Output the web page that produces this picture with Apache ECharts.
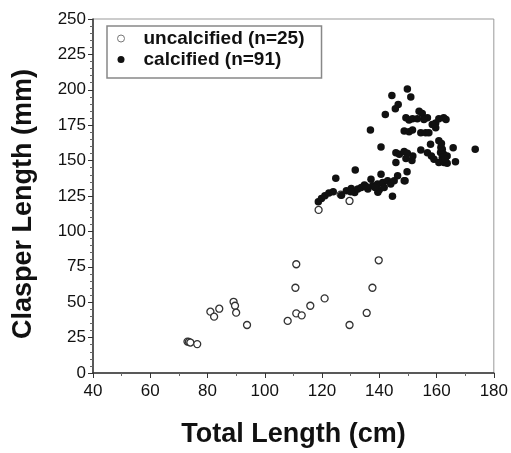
<!DOCTYPE html>
<html>
<head>
<meta charset="utf-8">
<script src="https://cdn.jsdelivr.net/npm/echarts@6/dist/echarts.min.js"></script>
<style>html,body{margin:0;padding:0;background:#fff}#c{width:511px;height:453px}</style>
</head>
<body>
<div id="c"></div>
<script>
var seriesNames = ['uncalcified (n=25)', 'calcified (n=91)'];
var xTicks = [40, 60, 80, 100, 120, 140, 160, 180];
var yTicks = [0, 25, 50, 75, 100, 125, 150, 175, 200, 225, 250];

var uncalcified = [
  [73.0,22.2],[73.5,22.0],[74.0,21.5],[76.4,20.4],[81.0,43.3],[82.3,39.8],[84.1,45.4],
  [89.1,50.3],[89.6,47.5],[90.0,42.6],[93.8,33.9],[108.0,36.8],[110.7,60.2],[111.0,76.8],
  [111.0,42.1],[112.9,40.7],[115.9,47.5],[120.9,52.7],[118.8,115.2],[129.6,121.5],
  [129.6,33.9],[135.6,42.4],[137.6,60.2],[139.8,79.6],[126.5,126.0]
];

var calcified = [
  [149.8,200.5],[151.0,195.0],[144.4,195.9],[146.6,189.6],[145.6,186.6],[142.1,182.6],
  [136.9,171.6],[140.6,159.6],[173.5,158.0],[124.8,137.6],[131.6,143.3],
  [149.3,180.3],[150.4,178.6],[151.6,179.5],[153.9,184.9],[155.0,183.3],[156.8,180.3],
  [155.6,179.1],[153.3,179.5],[159.7,176.6],[160.8,179.5],[162.5,180.2],[159.7,173.2],
  [148.7,170.9],[150.4,170.4],[151.6,171.6],[154.5,169.7],[156.2,169.7],[157.3,169.7],
  [158.5,175.5],[163.3,179.0],
  [145.8,155.6],[147.0,154.5],[148.7,156.4],[149.8,155.2],[154.5,157.5],[157.9,161.5],
  [156.8,155.6],[160.8,164.0],[162.0,158.0],[162.5,154.5],[161.4,155.7],[165.8,159.1],
  [166.6,149.1],[145.8,148.6],[149.3,151.5],[151.4,150.0],[151.7,153.3],[158.2,153.3],
  [159.1,151.0],[160.8,148.6],[162.6,148.6],[163.7,148.2],[162.0,152.2],[163.7,153.3],
  [161.5,159.2],[149.7,142.1],[149.0,135.8],[146.4,139.3],[140.6,140.4],[162.2,150.5],
  [163.0,151.0],[161.7,162.0],
  [118.7,121.0],[119.8,123.3],[121.0,125.2],[122.4,127.1],[123.9,128.0],[126.8,125.5],
  [128.5,128.7],[130.2,130.3],[131.4,127.5],[132.5,129.9],[133.7,131.0],[134.8,132.7],
  [136.0,129.9],[137.7,132.2],[139.4,133.4],[141.2,134.6],[142.9,135.7],[140.0,129.4],
  [141.7,131.0],[144.0,133.4],[145.2,135.7],[144.6,124.8],[148.7,135.7],[137.1,136.9],
  [139.5,127.6],[130.0,128.0],[135.5,131.5],[138.5,131.0]
];

var chart = echarts.init(document.getElementById('c'), null, {renderer: 'canvas'});
var font = 'Liberation Sans, Arial, Helvetica, sans-serif';
var axisCol = '#333';
chart.setOption({
  animation: false,
  backgroundColor: '#fff',
  textStyle: {fontFamily: font},
  grid: {left: 93, right: 14, top: 19, bottom: 78, show: true, borderColor: '#999', borderWidth: 1},
  legend: {
    left: 107, top: 26, orient: 'vertical',
    borderColor: '#888', borderWidth: 1.5,
    padding: [2, 17, 8, 10],
    itemGap: 0, itemWidth: 7, itemHeight: 7,
    textStyle: {fontFamily: font, fontSize: 19, fontWeight: 'bold', color: '#111', lineHeight: 21, padding: [0, 0, 0, 14]},
    data: [
      {name: seriesNames[0], icon: 'circle', itemStyle: {color: '#fff', borderColor: '#777', borderWidth: 1, opacity: 1}},
      {name: seriesNames[1], icon: 'circle', itemStyle: {color: '#111', opacity: 1}}
    ]
  },
  xAxis: {
    type: 'value', min: xTicks[0], max: xTicks[xTicks.length - 1], interval: 20,
    name: 'Total Length (cm)', nameLocation: 'middle', nameGap: 48,
    nameTextStyle: {fontFamily: font, fontSize: 27, fontWeight: 'bold', color: '#111'},
    axisLine: {lineStyle: {color: axisCol, width: 1.5}},
    axisTick: {show: true, length: 5, inside: false, lineStyle: {color: axisCol}},
    minorTick: {show: true, splitNumber: 2, length: 3, lineStyle: {color: '#666'}},
    axisLabel: {fontFamily: font, fontSize: 17, color: '#111', margin: 10},
    splitLine: {show: false}
  },
  yAxis: {
    type: 'value', min: yTicks[0], max: yTicks[yTicks.length - 1], interval: 25,
    name: 'Clasper Length (mm)', nameLocation: 'middle', nameGap: 56,
    nameTextStyle: {fontFamily: font, fontSize: 27, fontWeight: 'bold', color: '#111', padding: [0, 16, 0, 0]},
    axisLine: {lineStyle: {color: axisCol, width: 1.5}},
    axisTick: {show: true, length: 5, inside: false, lineStyle: {color: axisCol}},
    minorTick: {show: true, splitNumber: 5, length: 3, lineStyle: {color: '#666'}},
    axisLabel: {fontFamily: font, fontSize: 17, color: '#111', margin: 7},
    splitLine: {show: false}
  },
  series: [
    {
      name: seriesNames[0], type: 'scatter', data: uncalcified,
      symbol: 'circle', symbolSize: 7,
      itemStyle: {color: '#fff', borderColor: '#333', borderWidth: 1.3, opacity: 1}
    },
    {
      name: seriesNames[1], type: 'scatter', data: calcified,
      symbol: 'circle', symbolSize: 7.5,
      itemStyle: {color: '#111', opacity: 1}
    }
  ]
});
</script>
</body>
</html>
